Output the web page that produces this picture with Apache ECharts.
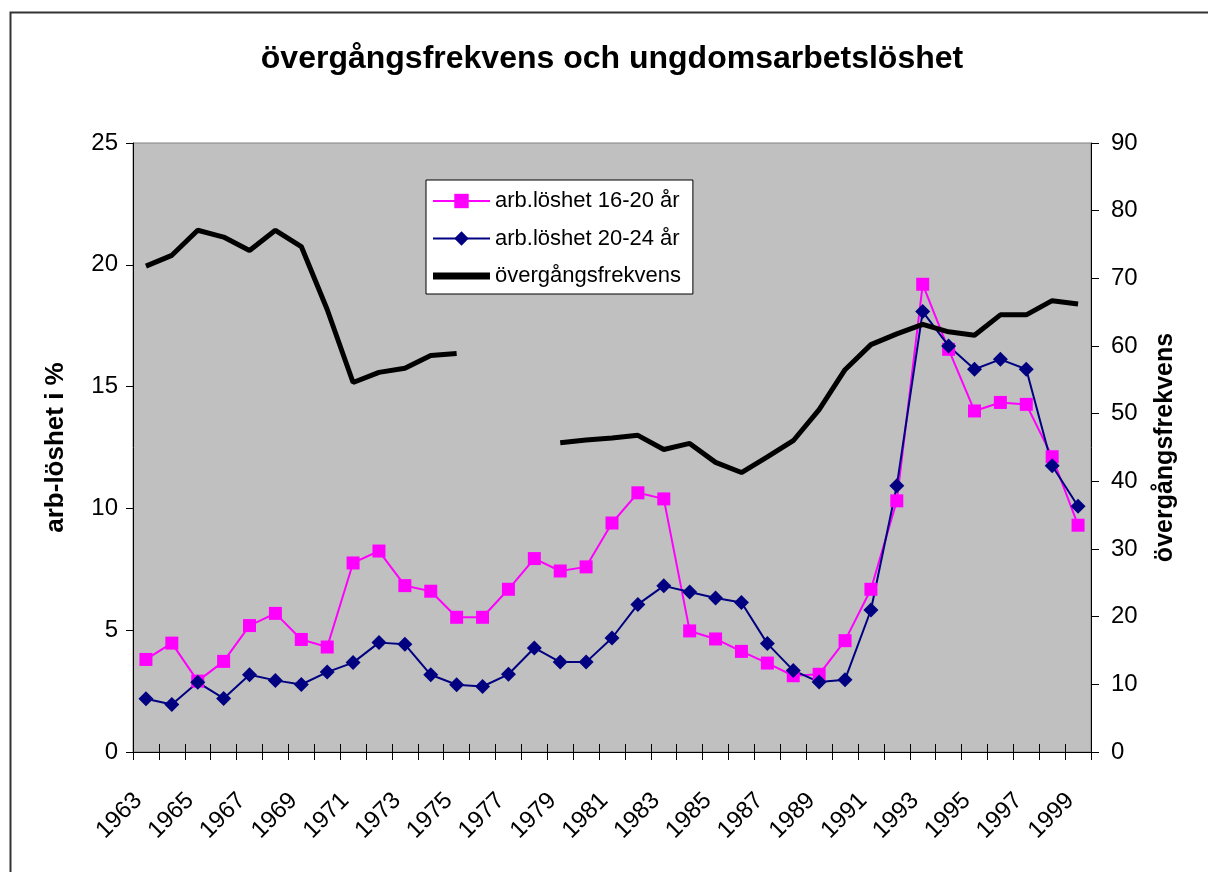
<!DOCTYPE html>
<html>
<head>
<meta charset="utf-8">
<script src="https://cdn.jsdelivr.net/npm/echarts@6/dist/echarts.min.js"></script>
<style>html,body{margin:0;padding:0;background:#fff}#c{width:1208px;height:872px}</style>
</head>
<body>
<div id="c"></div>
<script>
const years = ['1963','1964','1965','1966','1967','1968','1969','1970','1971','1972','1973','1974','1975','1976','1977','1978','1979','1980','1981','1982','1983','1984','1985','1986','1987','1988','1989','1990','1991','1992','1993','1994','1995','1996','1997','1998','1999'];
const unemp1620 = [3.80,4.47,2.91,3.72,5.19,5.69,4.62,4.31,7.76,8.25,6.83,6.60,5.53,5.53,6.68,7.94,7.43,7.60,9.40,10.64,10.39,4.97,4.64,4.13,3.65,3.13,3.19,4.57,6.68,10.31,19.20,16.53,14.00,14.35,14.27,12.12,9.31];
const unemp2024 = [2.19,1.95,2.86,2.20,3.17,2.94,2.77,3.28,3.67,4.49,4.42,3.17,2.76,2.69,3.19,4.27,3.69,3.69,4.68,6.06,6.82,6.57,6.32,6.14,4.45,3.35,2.87,2.97,5.83,10.93,18.08,16.67,15.71,16.12,15.71,11.75,10.09];
const transition = [71.8,73.4,77.1,76.1,74.1,77.1,74.7,65.4,54.6,56.1,56.7,58.6,58.9,null,null,null,45.7,46.1,46.4,46.8,44.7,45.6,42.8,41.3,43.6,46.0,50.6,56.5,60.2,61.8,63.2,62.1,61.6,64.6,64.6,66.7,66.2];
const seriesNames = ['arb.löshet 16-20 år','arb.löshet 20-24 år','övergångsfrekvens'];
const titleText = 'övergångsfrekvens och ungdomsarbetslöshet';
const leftAxisName = 'arb-löshet i %';
const rightAxisName = 'övergångsfrekvens';

const FF = 'Arial, "Liberation Sans", sans-serif';
const chart = echarts.init(document.getElementById('c'), null, {renderer: 'canvas'});
chart.setOption({
  backgroundColor: '#ffffff',
  animation: false,
  graphic: [{
    type: 'rect', left: 8, top: 10, z: -10,
    shape: {width: 1300, height: 1000},
    style: {fill: 'none', stroke: '#333333', lineWidth: 2}
  }],
  title: {
    text: titleText, left: 612, top: 43, textAlign: 'center', padding: 0,
    textStyle: {fontFamily: FF, fontSize: 32, fontWeight: 'bold', color: '#000'}
  },
  grid: {left: 133, right: 117, top: 143, bottom: 120, show: true, backgroundColor: '#c0c0c0', borderColor: '#808080', borderWidth: 1},
  legend: {
    orient: 'vertical', left: 426, top: 180,
    backgroundColor: '#ffffff', borderColor: '#000000', borderWidth: 1,
    padding: [10, 12, 7, 6], itemGap: 15.5, itemWidth: 57, itemHeight: 18,
    textStyle: {fontFamily: FF, fontSize: 22, color: '#000'},
    data: [
      {name: seriesNames[0]},
      {name: seriesNames[1]},
      {name: seriesNames[2], icon: 'path://M0,0 L57,0 L57,7 L0,7 Z', itemStyle: {color: '#000000'}}
    ]
  },
  xAxis: [{
    type: 'category', data: years, boundaryGap: true,
    axisLine: {show: true, lineStyle: {color: '#000', width: 1}},
    axisTick: {show: true, interval: 0, length: 8, lineStyle: {color: '#000'}},
    axisLabel: {interval: 1, rotate: 45, margin: 37, padding: [0, 11, 0, 0], fontFamily: FF, fontSize: 24, color: '#000'},
    splitLine: {show: false}
  }, {
    type: 'category', data: years, boundaryGap: true, position: 'bottom',
    axisLine: {show: false},
    axisTick: {show: true, inside: true, interval: 0, length: 8, lineStyle: {color: '#000'}},
    axisLabel: {show: false}, splitLine: {show: false}
  }],
  yAxis: [{
    type: 'value', min: 0, max: 25, interval: 5, position: 'left',
    name: leftAxisName, nameLocation: 'middle', nameRotate: 90, nameGap: 64,
    nameTextStyle: {fontFamily: FF, fontSize: 26, fontWeight: 'bold', color: '#000'},
    axisLine: {show: true, lineStyle: {color: '#000', width: 1}},
    axisTick: {show: true, length: 7, lineStyle: {color: '#000'}},
    axisLabel: {margin: 15, fontFamily: FF, fontSize: 24, color: '#000'},
    splitLine: {show: false}
  }, {
    type: 'value', min: 0, max: 90, interval: 10, position: 'right',
    name: rightAxisName, nameLocation: 'middle', nameRotate: 90, nameGap: 62,
    nameTextStyle: {fontFamily: FF, fontSize: 25, fontWeight: 'bold', color: '#000'},
    axisLine: {show: true, lineStyle: {color: '#000', width: 1}},
    axisTick: {show: true, length: 8, lineStyle: {color: '#000'}},
    axisLabel: {margin: 20, fontFamily: FF, fontSize: 24, color: '#000'},
    splitLine: {show: false}
  }],
  series: [{
    name: seriesNames[0], type: 'line', data: unemp1620, yAxisIndex: 0,
    symbol: 'rect', symbolSize: 13,
    lineStyle: {color: '#ff00ff', width: 2}, itemStyle: {color: '#ff00ff'}
  }, {
    name: seriesNames[1], type: 'line', data: unemp2024, yAxisIndex: 0,
    symbol: 'diamond', symbolSize: 15,
    lineStyle: {color: '#000080', width: 2}, itemStyle: {color: '#000080'}
  }, {
    name: seriesNames[2], type: 'line', data: transition, yAxisIndex: 1,
    symbol: 'none', connectNulls: false,
    lineStyle: {color: '#000000', width: 5}, itemStyle: {color: '#000000'}
  }]
});
</script>
</body>
</html>
